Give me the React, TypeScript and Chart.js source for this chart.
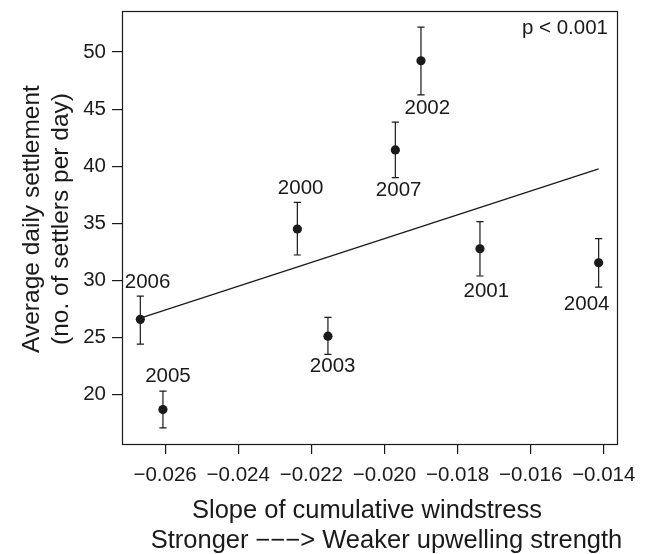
import React, { useEffect, useRef } from "react";
import { Chart, registerables } from "chart.js";

Chart.register(...registerables);

// ---- data ----
const years = ["2006", "2005", "2000", "2003", "2007", "2002", "2001", "2004"];
const slope = [-0.026679, -0.02606, -0.022383, -0.021546, -0.019702, -0.019001, -0.017387, -0.01414];
const settlement = [26.58, 18.68, 34.5, 25.11, 41.43, 49.24, 32.77, 31.54];
const errHigh = [28.62, 20.29, 36.84, 26.75, 43.86, 52.19, 35.14, 33.65];
const errLow = [24.41, 17.07, 32.22, 23.51, 39.0, 46.25, 30.38, 29.41];
const labelX = [-0.026479, -0.025923, -0.022293, -0.021417, -0.019612, -0.018826, -0.017212, -0.014468];
const labelY = [29.94, 21.69, 38.21, 22.57, 38.01, 45.23, 29.15, 28.01];
const fitX = [-0.026679, -0.01414];
const fitY = [26.69, 39.76];
const xTicks = [-0.026, -0.024, -0.022, -0.02, -0.018, -0.016, -0.014];
const yTicks = [20, 25, 30, 35, 40, 45, 50];
const xRange = [-0.02718, -0.013638];
const yRange = [15.66, 53.6];
const pText = "p < 0.001";
const xTitle1 = "Slope of cumulative windstress";
const xTitle2 = "Stronger \u2212\u2212\u2212> Weaker upwelling strength";
const yTitle1 = "Average daily settlement";
const yTitle2 = "(no. of settlers per day)";

const FONT = "'Liberation Sans', Arial, Helvetica, sans-serif";
const INK = "#1a1a1a";

const overlay = {
  id: "overlay",
  beforeDatasetsDraw(chart: any) {
    const ctx = chart.ctx;
    const xs = chart.scales.x;
    const ys = chart.scales.y;
    ctx.save();
    ctx.strokeStyle = INK;
    ctx.lineWidth = 1.2;
    for (let i = 0; i < slope.length; i++) {
      const px = xs.getPixelForValue(slope[i]);
      const pt = ys.getPixelForValue(errHigh[i]);
      const pb = ys.getPixelForValue(errLow[i]);
      ctx.beginPath();
      ctx.moveTo(px, pt);
      ctx.lineTo(px, pb);
      ctx.moveTo(px - 3.6, pt);
      ctx.lineTo(px + 3.6, pt);
      ctx.moveTo(px - 3.6, pb);
      ctx.lineTo(px + 3.6, pb);
      ctx.stroke();
    }
    ctx.restore();
  },
  afterDraw(chart: any) {
    const ctx = chart.ctx;
    const xs = chart.scales.x;
    const ys = chart.scales.y;
    const a = chart.chartArea;
    ctx.save();
    // box
    ctx.strokeStyle = INK;
    ctx.lineWidth = 1.2;
    ctx.strokeRect(Math.round(a.left) + 0.5, Math.round(a.top) + 0.5, Math.round(a.right - a.left), Math.round(a.bottom - a.top));
    // point labels
    ctx.fillStyle = INK;
    ctx.font = `20.5px ${FONT}`;
    ctx.textAlign = "center";
    ctx.textBaseline = "alphabetic";
    for (let i = 0; i < years.length; i++) {
      const px = xs.getPixelForValue(labelX[i]);
      const py = ys.getPixelForValue(labelY[i]);
      ctx.fillText(years[i], px, py + 7.3);
    }
    // p value
    ctx.textAlign = "right";
    ctx.fillText(pText, a.right - 9, a.top + 22.5);
    // x title
    ctx.font = `25.5px ${FONT}`;
    ctx.textAlign = "center";
    const cx = (a.left + a.right) / 2;
    ctx.fillText(xTitle1, cx - 2.5, a.bottom + 74);
    ctx.fillText(xTitle2, cx + 17, a.bottom + 103.5);
    // y title
    ctx.font = `24.5px ${FONT}`;
    const cy = (a.top + a.bottom) / 2 - 8.5;
    ctx.translate(39, cy);
    ctx.rotate(-Math.PI / 2);
    ctx.fillText(yTitle1, 0, 0);
    ctx.fillText(yTitle2, 0, 28.5);
    ctx.restore();
  },
};

export default function App() {
  const ref = useRef<HTMLCanvasElement | null>(null);
  useEffect(() => {
    if (!ref.current) return;
    const fmtX = (v: number) => {
      const s = Math.abs(v).toFixed(3);
      return v < 0 ? "\u2212" + s : s;
    };
    const chart = new Chart(ref.current, {
      type: "scatter",
      data: {
        datasets: [
          {
            label: "fit",
            data: fitX.map((x, i) => ({ x, y: fitY[i] })),
            showLine: true,
            borderColor: INK,
            borderWidth: 1.3,
            pointRadius: 0,
            fill: false,
          },
          {
            label: "settlement",
            data: slope.map((x, i) => ({ x, y: settlement[i] })),
            pointRadius: 4.6,
            pointBackgroundColor: INK,
            pointBorderColor: INK,
            pointBorderWidth: 0,
            showLine: false,
          },
        ],
      },
      options: {
        responsive: false,
        animation: false,
        events: [],
        layout: { padding: { top: 11, right: 29, left: 0, bottom: 0 } },
        plugins: { legend: { display: false }, tooltip: { enabled: false } },
        scales: {
          x: {
            type: "linear",
            min: xRange[0],
            max: xRange[1],
            afterBuildTicks: (s: any) => {
              s.ticks = xTicks.map((v) => ({ value: v }));
            },
            afterFit: (s: any) => {
              s.height = 110;
              s.paddingLeft = 0;
              s.paddingRight = 0;
            },
            ticks: {
              callback: (v: any) => fmtX(Number(v)),
              font: { family: FONT, size: 20.5 },
              color: INK,
              maxRotation: 0,
              autoSkip: false,
              padding: 9,
            },
            grid: { display: true, drawOnChartArea: false, drawTicks: true, tickLength: 10, color: INK, lineWidth: 1.2 },
            border: { display: false },
          },
          y: {
            type: "linear",
            min: yRange[0],
            max: yRange[1],
            afterBuildTicks: (s: any) => {
              s.ticks = yTicks.map((v) => ({ value: v }));
            },
            afterFit: (s: any) => {
              s.width = 122;
              s.paddingTop = 0;
              s.paddingBottom = 0;
            },
            ticks: {
              font: { family: FONT, size: 20.5 },
              color: INK,
              autoSkip: false,
              padding: 6,
            },
            grid: { display: true, drawOnChartArea: false, drawTicks: true, tickLength: 10, color: INK, lineWidth: 1.2 },
            border: { display: false },
          },
        },
      },
      plugins: [overlay],
    } as any);
    return () => chart.destroy();
  }, []);
  return (
    <canvas
      ref={ref}
      width={646}
      height={554}
      style={{ position: "absolute", left: 0, top: 0, width: 646, height: 554, display: "block", background: "#fff" }}
    />
  );
}
